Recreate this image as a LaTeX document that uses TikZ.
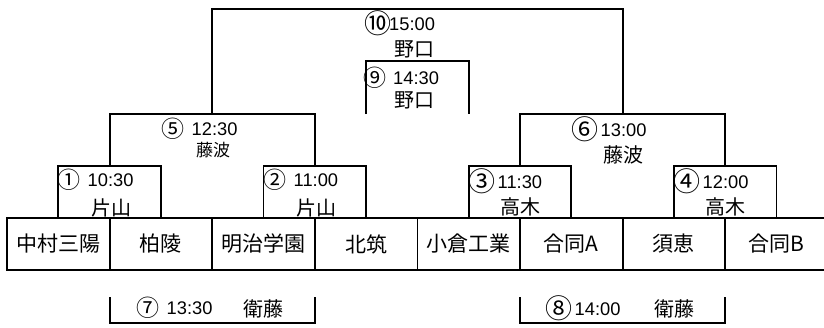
\documentclass[tikz,border=0pt]{standalone}
\usepackage{fontspec}
\setmainfont{Liberation Sans}
\newfontfamily\jp{Noto Sans CJK JP}
\tikzset{
  bracket/.style={line width=1.8pt},
  team/.style={draw, line width=1.8pt, minimum width=102.6pt, minimum height=52pt, inner sep=0pt, font=\jp\fontsize{21}{21}\selectfont},
  tl/.style={anchor=base west, inner sep=0pt, font=\fontsize{18.3}{18.3}\selectfont},
  nm/.style={inner sep=0pt, font=\jp\fontsize{20}{20}\selectfont},
  nmsmall/.style={inner sep=0pt, font=\jp\fontsize{17}{17}\selectfont},
}
% small circled numbers (①②⑤⑦⑨) and large ones (③④⑥⑧⑩)
\newcommand{\cn}[1]{\makebox[16pt]{\raisebox{-2.2pt}{\jp\fontsize{23}{23}\selectfont #1}}}
\newcommand{\cnb}[1]{\makebox[20pt]{\raisebox{-3pt}{\jp\fontsize{27}{27}\selectfont #1}}}
\begin{document}
\begin{tikzpicture}[x=1pt,y=-1pt]
\useasboundingbox (0,0) rectangle (824,327);
% teams
\node[team] (t1) at (58.3,244) {中村三陽};
\node[team] (t2) at (160.9,244) {柏陵};
\node[team] (t3) at (263.5,244) {明治学園};
\node[team] (t4) at (366.1,244) {北筑};
\node[team] (t5) at (468.7,244) {小倉工業};
\node[team] (t6) at (571.3,244) {合同A};
\node[team] (t7) at (673.9,244) {須恵};
\node[team] (t8) at (776.5,244) {合同B};
% bracket coordinates
\coordinate (m1) at (109.6,166);
\coordinate (m2) at (314.8,166);
\coordinate (m3) at (520,166);
\coordinate (m4) at (725.2,166);
\coordinate (m5) at (212.2,114);
\coordinate (m6) at (622.6,114);
\coordinate (m10) at (417.4,9);
\coordinate (a9) at (366.1,114);
\coordinate (b9) at (468.7,114);
\coordinate (m9) at (417.4,61);
\coordinate (a7) at (109.6,297);
\coordinate (m7) at (212.2,323);
\coordinate (b7) at (314.8,297);
\coordinate (a8) at (520,297);
\coordinate (m8) at (622.6,323);
\coordinate (b8) at (725.2,297);
% brackets
\draw[bracket] (t1.north) |- (m1) -| (t2.north);
\draw[bracket] (t3.north) |- (m2) -| (t4.north);
\draw[bracket] (t5.north) |- (m3) -| (t6.north);
\draw[bracket] (t7.north) |- (m4) -| (t8.north);
\draw[bracket] (m1) |- (m5) -| (m2);
\draw[bracket] (m3) |- (m6) -| (m4);
\draw[bracket] (m5) |- (m10) -| (m6);
\draw[bracket] (a9) |- (m9) -| (b9);
\draw[bracket] (a7) |- (m7) -| (b7);
\draw[bracket] (a8) |- (m8) -| (b8);
% labels
\node[tl] (l1) at (61,186.5) {\cn{①}\hspace{10.5pt}10:30};
\node[nm] (n1) at (111.5,208) {片山};
\node[tl] (l2) at (267,186.5) {\cn{②}\hspace{10.5pt}11:00};
\node[nm] (n2) at (316,208) {片山};
\node[tl] (l3) at (472,188.5) {\cnb{③}\hspace{5.5pt}11:30};
\node[nm] (n3) at (520.5,207) {高木};
\node[tl] (l4) at (677,188.5) {\cnb{④}\hspace{5.5pt}12:00};
\node[nm] (n4) at (725,207) {高木};
\node[tl] (l5) at (165,135.5) {\cn{⑤}\hspace{10.5pt}12:30};
\node[nmsmall] (n5) at (213,150) {藤波};
\node[tl] (l6) at (575,136) {\cnb{⑥}\hspace{5.5pt}13:00};
\node[nm] (n6) at (623,155) {藤波};
\node[tl] (l10) at (369,30) {\makebox[17pt]{\raisebox{-3pt}{\jp\fontsize{27}{27}\selectfont ⑩}}\hspace{3pt}15:00};
\node[nm] (n10) at (414,49) {野口};
\node[tl] (l9) at (366.5,84.5) {\cn{⑨}\hspace{10.5pt}14:30};
\node[nm] (n9) at (414,100) {野口};
\node[tl] (l7) at (140,314) {\cn{⑦}\hspace{10.5pt}13:30};
\node[nm, anchor=west] (n7) at (243,309) {衛藤};
\node[tl] (l8) at (549,315) {\cnb{⑧}\hspace{5.5pt}14:00};
\node[nm, anchor=west] (n8) at (654,309) {衛藤};
\end{tikzpicture}
\end{document}
